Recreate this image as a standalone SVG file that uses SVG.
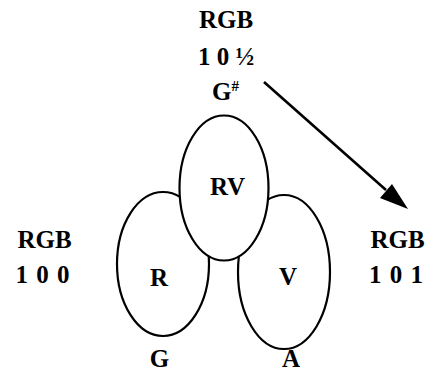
<svg xmlns="http://www.w3.org/2000/svg" width="435" height="371" viewBox="0 0 435 371">
<style>
text{font-family:"Liberation Serif","Times New Roman",serif;font-weight:bold;font-size:25px;fill:#000;text-anchor:middle}
.e{fill:#fff;stroke:#000;stroke-width:2.2}
</style>
<rect width="435" height="371" fill="#fff"/>
<g id="node-R"><ellipse class="e" cx="163" cy="264" rx="46" ry="72"/><text x="159" y="286">R</text></g>
<g id="node-V"><ellipse class="e" cx="284" cy="272" rx="46" ry="77"/><text x="288" y="285">V</text></g>
<g id="node-RV"><ellipse class="e" cx="224" cy="188" rx="44.5" ry="72.5"/><text x="227.5" y="195">RV</text></g>
<g id="label-top"><text x="226" y="28">RGB</text><text x="226" y="65">1 0 ½</text><text x="212" y="100" style="text-anchor:start">G<tspan font-size="15" dy="-9">#</tspan></text></g>
<g id="label-left"><text x="44.5" y="248">RGB</text><text x="43" y="283" letter-spacing="1">1 0 0</text></g>
<g id="label-right"><text x="397.5" y="248">RGB</text><text x="396.5" y="283" letter-spacing="1">1 0 1</text></g>
<g id="label-G"><text x="159.5" y="367">G</text></g>
<g id="label-A"><text x="291" y="367">A</text></g>
<g id="connectors">
<line x1="264" y1="82" x2="386" y2="190" stroke="#000" stroke-width="2.6"/>
<path d="M408,209 L380,198 L392,184 Z" fill="#000"/>
</g>
</svg>
